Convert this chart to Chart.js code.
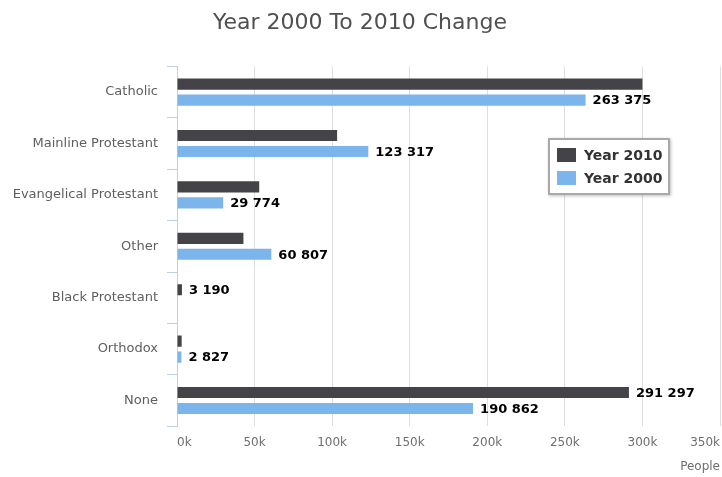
<!DOCTYPE html>
<html>
<head>
    <title>Year 2000 To 2010 Change</title>
    <style>
        body {
            margin: 0;
            padding: 0;
            background: #ffffff;
            font-family: "DejaVu Sans", sans-serif;
        }
        #wrap {
            position: relative;
            width: 722px;
            height: 477px;
        }
        #legend {
            position: absolute;
            left: 548px;
            top: 138px;
            width: 118px;
            height: 50px;
            padding-top: 3px;
            border: 2px solid #a9a9a9;
            box-shadow: 1px 1px 3px rgba(0, 0, 0, 0.25);
            background: #ffffff;
        }
        .item {
            display: flex;
            align-items: center;
            height: 23px;
            font: bold 14px "DejaVu Sans", sans-serif;
            color: #333333;
        }
        .swatch {
            width: 19px;
            height: 14px;
            margin: 0 8px 0 7px;
        }
    </style>
</head>
<body>
<div id="wrap">
    <canvas id="chart" width="722" height="477"></canvas>
    <div id="legend"></div>
</div>
<script src="https://cdn.jsdelivr.net/npm/chart.js"></script>
<script>
    // categories and values
    const categories = ['Catholic', 'Mainline Protestant', 'Evangelical Protestant', 'Other',
                        'Black Protestant', 'Orthodox', 'None'];
    const year2010 = [300000, 103200, 53000, 42800, 3190, 3000, 291297];
    const year2000 = [263375, 123317, 29774, 60807, null, 2827, 190862];
    // which bars carry a value label
    const show2010 = [false, false, false, false, true, false, true];
    const show2000 = [true, true, true, true, false, true, true];
    const xTicks = [0, 50000, 100000, 150000, 200000, 250000, 300000, 350000];

    const fmt = v => String(v).replace(/\B(?=(\d{3})+(?!\d))/g, ' ');

    // draws the bold numbers after the bars
    const valueLabels = {
      id: 'valueLabels',
      afterDatasetsDraw(chart) {
        const ctx = chart.ctx;
        ctx.save();
        ctx.font = 'bold 13px "DejaVu Sans", sans-serif';
        ctx.fillStyle = '#000000';
        ctx.textBaseline = 'middle';
        ctx.textAlign = 'left';
        chart.data.datasets.forEach((ds, i) => {
          chart.getDatasetMeta(i).data.forEach((bar, j) => {
            if (!ds.showLabel[j] || ds.data[j] == null) return;
            ctx.fillText(fmt(ds.data[j]), bar.x + 7, bar.y + 1);
          });
        });
        ctx.restore();
      }
    };

    const ctx = document.getElementById('chart').getContext('2d');
    const chart = new Chart(ctx, {
      type: 'bar',
      data: {
        labels: categories,
        datasets: [{
          label: 'Year 2010',
          data: year2010,
          showLabel: show2010,
          backgroundColor: '#434348',
        }, {
          label: 'Year 2000',
          data: year2000,
          showLabel: show2000,
          backgroundColor: '#7cb5ec',
        }],
      },
      options: {
        indexAxis: 'y',
        responsive: false,
        animation: false,
        categoryPercentage: 0.62,
        barPercentage: 0.7,
        layout: {
          padding: { left: 0, right: 2, top: 0, bottom: 3 },
        },
        scales: {
          x: {
            min: 0,
            max: 350000,
            afterBuildTicks: scale => {
              scale.ticks = xTicks.map(v => ({ value: v }));
            },
            afterFit: scale => {
              scale.paddingLeft = 0;
              scale.paddingRight = 0;
            },
            ticks: {
              align: 'inner',
              padding: 9,
              color: '#6e6e6e',
              font: { size: 12, family: '"DejaVu Sans", sans-serif' },
              callback: v => (v / 1000) + 'k',
            },
            grid: {
              color: '#dedede',
              drawTicks: false,
            },
            border: { display: false },
            title: {
              display: true,
              text: 'People',
              align: 'end',
              color: '#6e6e6e',
              padding: { top: 1, bottom: 0 },
              font: { size: 12, family: '"DejaVu Sans", sans-serif' },
            },
          },
          y: {
            afterFit: scale => { scale.width = 177; },
            ticks: {
              padding: 9,
              color: '#5e5e5e',
              font: { size: 13, family: '"DejaVu Sans", sans-serif' },
            },
            grid: {
              drawOnChartArea: false,
              tickLength: 10,
              color: '#c0d0e0',
            },
            border: { color: '#c0d0e0' },
          },
        },
        plugins: {
          legend: { display: false },
          tooltip: { enabled: false },
          title: {
            display: true,
            text: 'Year 2000 To 2010 Change',
            color: '#505050',
            font: { size: 22, weight: 'normal', family: '"DejaVu Sans", sans-serif' },
            padding: { top: 10, bottom: 30 },
          },
        },
      },
      plugins: [valueLabels],
    });

    // html legend built from the datasets
    const legend = document.getElementById('legend');
    chart.data.datasets.forEach(ds => {
      const item = document.createElement('div');
      item.className = 'item';
      item.innerHTML = '<span class="swatch" style="background:' + ds.backgroundColor + '"></span>' + ds.label;
      legend.appendChild(item);
    });
</script>
</body>
</html>
